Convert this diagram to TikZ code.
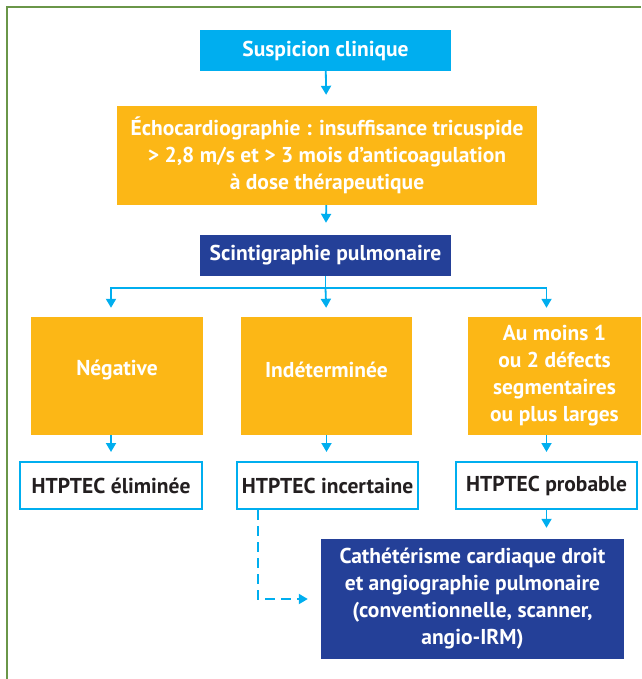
\documentclass[tikz,border=0pt]{standalone}
\usepackage{fontspec}
\setmainfont{PT Sans}
\usetikzlibrary{arrows.meta,calc}
\definecolor{cyanb}{RGB}{0,174,239}
\definecolor{orangeb}{RGB}{252,183,22}
\definecolor{blueb}{RGB}{36,64,152}
\definecolor{frameg}{RGB}{106,150,72}
\definecolor{txt}{RGB}{35,31,32}
\begin{document}
\begin{tikzpicture}[x=1pt,y=-1pt,
  base/.style={inner sep=0pt,align=center,font=\fontsize{21.5}{27}\selectfont\bfseries},
  cyanbox/.style={base,fill=cyanb,text=white},
  orangebox/.style={base,fill=orangeb,text=white},
  bluebox/.style={base,fill=blueb,text=white},
  whitebox/.style={base,draw=cyanb,line width=2pt,fill=white,text=txt},
  arr/.style={draw=cyanb,line width=1.8pt,-{Triangle[length=9pt,width=10pt]}},
  darr/.style={arr,line width=2pt,dash pattern=on 10pt off 6pt}]
\useasboundingbox (0,0) rectangle (641,679);
\draw[frameg,line width=2.2pt] (7,679) -- (7,7) -- (641,7);
\node[cyanbox,minimum width=251pt,minimum height=41pt] (susp) at (325.5,50.5) {Suspicion clinique};
\node[orangebox,minimum width=420pt,minimum height=99pt] (echo) at (327,155.5) {Échocardiographie : insuffisance tricuspide\\> 2,8 m/s et > 3 mois d’anticoagulation\\à dose thérapeutique};
\node[bluebox,minimum width=251pt,minimum height=41pt] (scin) at (325.5,255.5) {Scintigraphie pulmonaire};
\node[orangebox,minimum width=172pt,minimum height=118pt] (neg) at (117,376) {\raisebox{6pt}[\height][\depth]{Négative}};
\node[orangebox,minimum width=171pt,minimum height=118pt] (ind) at (326.5,376) {\raisebox{6pt}[\height][\depth]{Indéterminée}};
\node[orangebox,minimum width=173pt,minimum height=118pt] (aum) at (554.5,376) {Au moins 1\\ou 2 défects\\segmentaires\\ou plus larges};
\node[whitebox,minimum width=182pt,minimum height=47pt] (w1) at (111,485.5) {HTPTEC éliminée};
\node[whitebox,minimum width=181pt,minimum height=47pt] (w2) at (327.5,485.5) {HTPTEC incertaine};
\node[whitebox,minimum width=181pt,minimum height=47pt] (w3) at (546.5,485.5) {HTPTEC probable};
\node[bluebox,minimum width=303pt,minimum height=120pt] (cath) at (472.5,599) {Cathétérisme cardiaque droit\\et angiographie pulmonaire\\(conventionnelle, scanner,\\angio-IRM)};
\draw[arr,shorten >=11pt] (susp) -- (echo);
\draw[arr,shorten >=12pt] (echo) -- (scin);
\coordinate (bj) at ($(scin.south)+(0,12)$);
\draw[draw=cyanb,line width=1.8pt] (scin.south) -- (bj);
\draw[arr,shorten >=9pt] (bj) -| (w1.north |- neg.north);
\draw[arr,shorten >=9pt] (bj) -- (ind.north);
\draw[arr,shorten >=9pt] (bj) -| (w3.north |- aum.north);
\draw[arr,shorten >=9pt] (w1.north |- neg.south) -- (w1.north);
\draw[arr,shorten >=9pt] (ind.south) -- (ind.south |- w2.north);
\draw[arr,shorten >=9pt] (w3.north |- aum.south) -- (w3.north);
\draw[arr,shorten >=11pt] (w3.south) -- (w3.south |- cath.north);
\coordinate (dk) at ($(w2.south)+(-69.5,89)$);
\draw[darr,shorten >=13pt] ($(w2.south)+(-69.5,0)$) -- (dk) -- (dk -| cath.west);
\end{tikzpicture}
\end{document}
